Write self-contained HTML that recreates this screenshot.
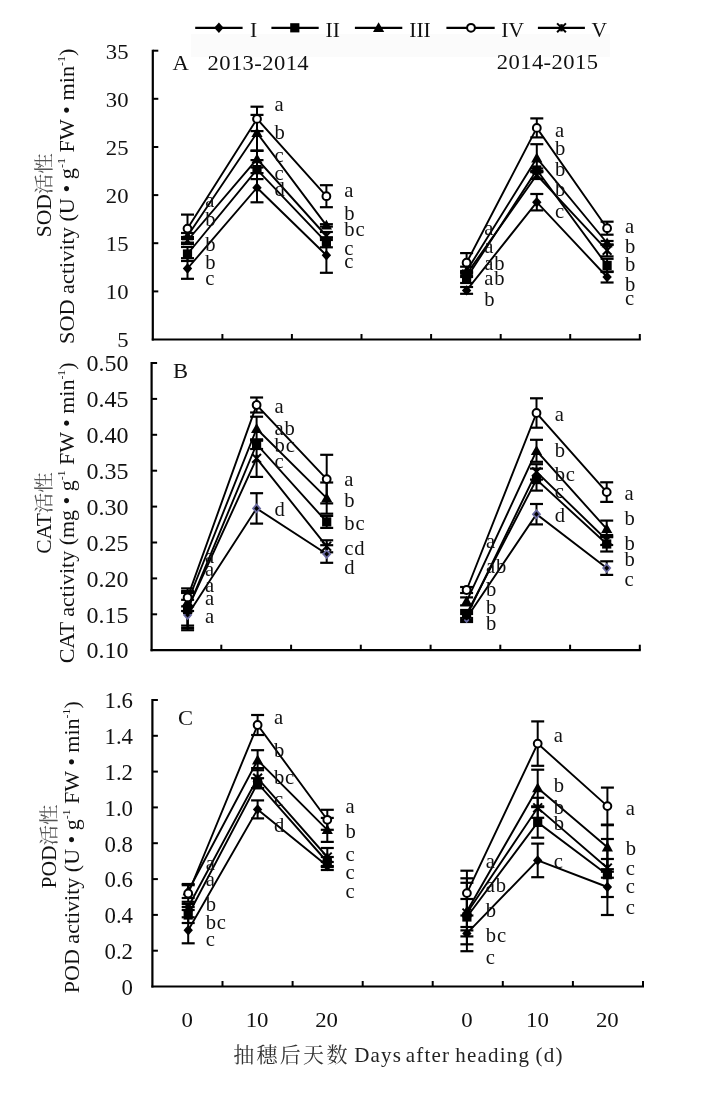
<!DOCTYPE html>
<html><head><meta charset="utf-8"><title>SOD CAT POD activity</title><style>html,body{margin:0;padding:0;background:#fff;}svg{display:block;will-change:transform;}</style></head><body>
<svg width="708" height="1094" viewBox="0 0 708 1094" font-family="'Liberation Serif', 'Noto Serif CJK SC', serif">
<rect width="708" height="1094" fill="#fff"/>
<rect x="191" y="34" width="419" height="23" fill="#fbfbfb"/>
<line x1="195.2" y1="27.8" x2="242.6" y2="27.8" stroke="#000" stroke-width="2.2"/>
<polygon points="218.9,22.6 223.6,27.8 218.9,33.0 214.2,27.8" fill="#000"/>
<text transform="translate(250.0,36.6) scale(1.0,1)" font-size="21.5" text-anchor="start" fill="#111" >I</text>
<line x1="271.4" y1="27.8" x2="318.7" y2="27.8" stroke="#000" stroke-width="2.2"/>
<rect x="290.2" y="23.2" width="9.2" height="9.2" fill="#000"/>
<text transform="translate(325.6,36.6) scale(1.0,1)" font-size="21.5" text-anchor="start" fill="#111" >II</text>
<line x1="354.9" y1="27.8" x2="402.3" y2="27.8" stroke="#000" stroke-width="2.2"/>
<polygon points="378.6,22.2 384.2,32.0 373.0,32.0" fill="#000"/>
<text transform="translate(409.3,36.6) scale(1.0,1)" font-size="21.5" text-anchor="start" fill="#111" >III</text>
<line x1="446.4" y1="27.8" x2="494.7" y2="27.8" stroke="#000" stroke-width="2.2"/>
<circle cx="471.0" cy="27.8" r="3.9" fill="#fff" stroke="#000" stroke-width="2"/>
<text transform="translate(501.3,36.6) scale(1.0,1)" font-size="21.5" text-anchor="start" fill="#111" >IV</text>
<line x1="537.9" y1="27.8" x2="584.9" y2="27.8" stroke="#000" stroke-width="2.2"/>
<g stroke="#000" stroke-width="2"><line x1="557.1" y1="23.4" x2="565.9" y2="32.2"/><line x1="557.1" y1="32.2" x2="565.9" y2="23.4"/><line x1="561.5" y1="24.2" x2="561.5" y2="31.4" stroke-width="2.6"/></g>
<text transform="translate(591.6,36.6) scale(1.0,1)" font-size="21.5" text-anchor="start" fill="#111" >V</text>
<line x1="152.8" y1="49.7" x2="152.8" y2="340.5" stroke="#000" stroke-width="2.2"/>
<line x1="152.8" y1="50.7" x2="158.3" y2="50.7" stroke="#000" stroke-width="2"/>
<text transform="translate(128.5,58.5) scale(1.03,1)" font-size="22" text-anchor="end" fill="#111" >35</text>
<line x1="152.8" y1="98.8" x2="158.3" y2="98.8" stroke="#000" stroke-width="2"/>
<text transform="translate(128.5,106.6) scale(1.03,1)" font-size="22" text-anchor="end" fill="#111" >30</text>
<line x1="152.8" y1="147.0" x2="158.3" y2="147.0" stroke="#000" stroke-width="2"/>
<text transform="translate(128.5,154.8) scale(1.03,1)" font-size="22" text-anchor="end" fill="#111" >25</text>
<line x1="152.8" y1="195.1" x2="158.3" y2="195.1" stroke="#000" stroke-width="2"/>
<text transform="translate(128.5,202.9) scale(1.03,1)" font-size="22" text-anchor="end" fill="#111" >20</text>
<line x1="152.8" y1="243.2" x2="158.3" y2="243.2" stroke="#000" stroke-width="2"/>
<text transform="translate(128.5,251.0) scale(1.03,1)" font-size="22" text-anchor="end" fill="#111" >15</text>
<line x1="152.8" y1="291.4" x2="158.3" y2="291.4" stroke="#000" stroke-width="2"/>
<text transform="translate(128.5,299.2) scale(1.03,1)" font-size="22" text-anchor="end" fill="#111" >10</text>
<text transform="translate(128.5,347.3) scale(1.03,1)" font-size="22" text-anchor="end" fill="#111" >5</text>
<line x1="151.8" y1="339.5" x2="640.8" y2="339.5" stroke="#000" stroke-width="2.2"/>
<line x1="222.4" y1="339.5" x2="222.4" y2="334.0" stroke="#000" stroke-width="2"/>
<line x1="291.9" y1="339.5" x2="291.9" y2="334.0" stroke="#000" stroke-width="2"/>
<line x1="361.5" y1="339.5" x2="361.5" y2="334.0" stroke="#000" stroke-width="2"/>
<line x1="431.1" y1="339.5" x2="431.1" y2="334.0" stroke="#000" stroke-width="2"/>
<line x1="500.7" y1="339.5" x2="500.7" y2="334.0" stroke="#000" stroke-width="2"/>
<line x1="570.2" y1="339.5" x2="570.2" y2="334.0" stroke="#000" stroke-width="2"/>
<line x1="639.8" y1="339.5" x2="639.8" y2="334.0" stroke="#000" stroke-width="2"/>
<text transform="translate(172.4,69.8) scale(1.05,1)" font-size="21.5" text-anchor="start" fill="#111" >A</text>
<text transform="translate(207.5,69.5) scale(1.05,1)" font-size="21.5" text-anchor="start" fill="#111" letter-spacing="0.4">2013-2014</text>
<text transform="translate(496.8,69.2) scale(1.05,1)" font-size="21.5" text-anchor="start" fill="#111" letter-spacing="0.4">2014-2015</text>
<polyline points="187.5,268.5 257.0,187.7 326.4,255.3" fill="none" stroke="#000" stroke-width="1.9" stroke-linejoin="miter"/>
<polyline points="187.5,254.0 257.0,169.6 326.4,242.3" fill="none" stroke="#000" stroke-width="1.9" stroke-linejoin="miter"/>
<polyline points="187.5,236.0 257.0,132.9 326.4,225.4" fill="none" stroke="#000" stroke-width="1.9" stroke-linejoin="miter"/>
<polyline points="187.5,240.5 257.0,159.0 326.4,236.0" fill="none" stroke="#000" stroke-width="1.9" stroke-linejoin="miter"/>
<polyline points="187.5,228.6 257.0,118.9 326.4,196.2" fill="none" stroke="#000" stroke-width="1.9" stroke-linejoin="miter"/>
<line x1="187.5" y1="258.2" x2="187.5" y2="278.8" stroke="#000" stroke-width="2"/>
<line x1="181.0" y1="258.2" x2="194.0" y2="258.2" stroke="#000" stroke-width="2.2"/>
<line x1="181.0" y1="278.8" x2="194.0" y2="278.8" stroke="#000" stroke-width="2.2"/>
<line x1="257.0" y1="173.1" x2="257.0" y2="202.3" stroke="#000" stroke-width="2"/>
<line x1="250.5" y1="173.1" x2="263.5" y2="173.1" stroke="#000" stroke-width="2.2"/>
<line x1="250.5" y1="202.3" x2="263.5" y2="202.3" stroke="#000" stroke-width="2.2"/>
<line x1="326.4" y1="237.8" x2="326.4" y2="272.8" stroke="#000" stroke-width="2"/>
<line x1="319.9" y1="237.8" x2="332.9" y2="237.8" stroke="#000" stroke-width="2.2"/>
<line x1="319.9" y1="272.8" x2="332.9" y2="272.8" stroke="#000" stroke-width="2.2"/>
<line x1="187.5" y1="247.0" x2="187.5" y2="261.0" stroke="#000" stroke-width="2"/>
<line x1="181.0" y1="247.0" x2="194.0" y2="247.0" stroke="#000" stroke-width="2.2"/>
<line x1="181.0" y1="261.0" x2="194.0" y2="261.0" stroke="#000" stroke-width="2.2"/>
<line x1="257.0" y1="160.1" x2="257.0" y2="179.1" stroke="#000" stroke-width="2"/>
<line x1="250.5" y1="160.1" x2="263.5" y2="160.1" stroke="#000" stroke-width="2.2"/>
<line x1="250.5" y1="179.1" x2="263.5" y2="179.1" stroke="#000" stroke-width="2.2"/>
<line x1="326.4" y1="237.3" x2="326.4" y2="247.3" stroke="#000" stroke-width="2"/>
<line x1="319.9" y1="237.3" x2="332.9" y2="237.3" stroke="#000" stroke-width="2.2"/>
<line x1="319.9" y1="247.3" x2="332.9" y2="247.3" stroke="#000" stroke-width="2.2"/>
<line x1="187.5" y1="233.0" x2="187.5" y2="239.0" stroke="#000" stroke-width="2"/>
<line x1="181.0" y1="233.0" x2="194.0" y2="233.0" stroke="#000" stroke-width="2.2"/>
<line x1="181.0" y1="239.0" x2="194.0" y2="239.0" stroke="#000" stroke-width="2.2"/>
<line x1="257.0" y1="114.9" x2="257.0" y2="150.9" stroke="#000" stroke-width="2"/>
<line x1="250.5" y1="114.9" x2="263.5" y2="114.9" stroke="#000" stroke-width="2.2"/>
<line x1="250.5" y1="150.9" x2="263.5" y2="150.9" stroke="#000" stroke-width="2.2"/>
<line x1="326.4" y1="224.2" x2="326.4" y2="226.6" stroke="#000" stroke-width="2"/>
<line x1="319.9" y1="224.2" x2="332.9" y2="224.2" stroke="#000" stroke-width="2.2"/>
<line x1="319.9" y1="226.6" x2="332.9" y2="226.6" stroke="#000" stroke-width="2.2"/>
<line x1="187.5" y1="237.0" x2="187.5" y2="244.0" stroke="#000" stroke-width="2"/>
<line x1="181.0" y1="237.0" x2="194.0" y2="237.0" stroke="#000" stroke-width="2.2"/>
<line x1="181.0" y1="244.0" x2="194.0" y2="244.0" stroke="#000" stroke-width="2.2"/>
<line x1="257.0" y1="150.5" x2="257.0" y2="167.5" stroke="#000" stroke-width="2"/>
<line x1="250.5" y1="150.5" x2="263.5" y2="150.5" stroke="#000" stroke-width="2.2"/>
<line x1="250.5" y1="167.5" x2="263.5" y2="167.5" stroke="#000" stroke-width="2.2"/>
<line x1="326.4" y1="232.0" x2="326.4" y2="240.0" stroke="#000" stroke-width="2"/>
<line x1="319.9" y1="232.0" x2="332.9" y2="232.0" stroke="#000" stroke-width="2.2"/>
<line x1="319.9" y1="240.0" x2="332.9" y2="240.0" stroke="#000" stroke-width="2.2"/>
<line x1="187.5" y1="214.6" x2="187.5" y2="242.6" stroke="#000" stroke-width="2"/>
<line x1="181.0" y1="214.6" x2="194.0" y2="214.6" stroke="#000" stroke-width="2.2"/>
<line x1="181.0" y1="242.6" x2="194.0" y2="242.6" stroke="#000" stroke-width="2.2"/>
<line x1="257.0" y1="106.7" x2="257.0" y2="131.1" stroke="#000" stroke-width="2"/>
<line x1="250.5" y1="106.7" x2="263.5" y2="106.7" stroke="#000" stroke-width="2.2"/>
<line x1="250.5" y1="131.1" x2="263.5" y2="131.1" stroke="#000" stroke-width="2.2"/>
<line x1="326.4" y1="185.2" x2="326.4" y2="207.2" stroke="#000" stroke-width="2"/>
<line x1="319.9" y1="185.2" x2="332.9" y2="185.2" stroke="#000" stroke-width="2.2"/>
<line x1="319.9" y1="207.2" x2="332.9" y2="207.2" stroke="#000" stroke-width="2.2"/>
<polygon points="187.5,263.3 192.2,268.5 187.5,273.7 182.8,268.5" fill="#000"/>
<polygon points="257.0,182.5 261.7,187.7 257.0,192.9 252.3,187.7" fill="#000"/>
<polygon points="326.4,250.1 331.1,255.3 326.4,260.5 321.7,255.3" fill="#000"/>
<rect x="182.9" y="249.4" width="9.2" height="9.2" fill="#000"/>
<rect x="252.4" y="165.0" width="9.2" height="9.2" fill="#000"/>
<rect x="321.8" y="237.7" width="9.2" height="9.2" fill="#000"/>
<polygon points="187.5,230.4 193.1,240.2 181.9,240.2" fill="#000"/>
<polygon points="257.0,127.3 262.6,137.1 251.4,137.1" fill="#000"/>
<polygon points="326.4,219.8 332.0,229.6 320.8,229.6" fill="#000"/>
<circle cx="187.5" cy="228.6" r="3.9" fill="#fff" stroke="#000" stroke-width="2"/>
<circle cx="257.0" cy="118.9" r="3.9" fill="#fff" stroke="#000" stroke-width="2"/>
<circle cx="326.4" cy="196.2" r="3.9" fill="#fff" stroke="#000" stroke-width="2"/>
<g stroke="#000" stroke-width="2"><line x1="183.1" y1="236.1" x2="191.9" y2="244.9"/><line x1="183.1" y1="244.9" x2="191.9" y2="236.1"/><line x1="187.5" y1="236.9" x2="187.5" y2="244.1" stroke-width="2.6"/></g>
<polygon points="257.0,153.4 262.6,163.2 251.4,163.2" fill="#000"/>
<g stroke="#000" stroke-width="2"><line x1="322.0" y1="231.6" x2="330.8" y2="240.4"/><line x1="322.0" y1="240.4" x2="330.8" y2="231.6"/><line x1="326.4" y1="232.4" x2="326.4" y2="239.6" stroke-width="2.6"/></g>
<text transform="translate(205.3,207.1) scale(0.97,1)" font-size="21.3" text-anchor="start" fill="#111" >a</text>
<text transform="translate(205.3,225.6) scale(0.97,1)" font-size="21.3" text-anchor="start" fill="#111" >b</text>
<text transform="translate(205.3,251.1) scale(0.97,1)" font-size="21.3" text-anchor="start" fill="#111" >b</text>
<text transform="translate(205.3,268.6) scale(0.97,1)" font-size="21.3" text-anchor="start" fill="#111" >b</text>
<text transform="translate(205.3,284.6) scale(0.97,1)" font-size="21.3" text-anchor="start" fill="#111" >c</text>
<text transform="translate(274.4,110.9) scale(0.97,1)" font-size="21.3" text-anchor="start" fill="#111" >a</text>
<text transform="translate(274.4,138.6) scale(0.97,1)" font-size="21.3" text-anchor="start" fill="#111" >b</text>
<text transform="translate(274.4,162.3) scale(0.97,1)" font-size="21.3" text-anchor="start" fill="#111" >c</text>
<text transform="translate(274.4,180.3) scale(0.97,1)" font-size="21.3" text-anchor="start" fill="#111" >c</text>
<text transform="translate(274.4,196.2) scale(0.97,1)" font-size="21.3" text-anchor="start" fill="#111" >d</text>
<text transform="translate(344.3,197.1) scale(0.97,1)" font-size="21.3" text-anchor="start" fill="#111" >a</text>
<text transform="translate(344.3,220.3) scale(0.97,1)" font-size="21.3" text-anchor="start" fill="#111" >b</text>
<text transform="translate(344.3,236.1) scale(0.97,1)" font-size="21.3" text-anchor="start" fill="#111" letter-spacing="0.8">bc</text>
<text transform="translate(344.3,255.3) scale(0.97,1)" font-size="21.3" text-anchor="start" fill="#111" >c</text>
<text transform="translate(344.3,268.3) scale(0.97,1)" font-size="21.3" text-anchor="start" fill="#111" >c</text>
<polyline points="466.6,290.4 536.8,202.2 607.1,277.0" fill="none" stroke="#000" stroke-width="1.9" stroke-linejoin="miter"/>
<polyline points="466.6,278.0 536.8,170.0 607.1,265.4" fill="none" stroke="#000" stroke-width="1.9" stroke-linejoin="miter"/>
<polyline points="466.6,271.0 536.8,158.2 607.1,243.0" fill="none" stroke="#000" stroke-width="1.9" stroke-linejoin="miter"/>
<polyline points="466.6,274.0 536.8,175.0 607.1,250.4" fill="none" stroke="#000" stroke-width="1.9" stroke-linejoin="miter"/>
<polyline points="466.6,262.7 536.8,127.9 607.1,228.2" fill="none" stroke="#000" stroke-width="1.9" stroke-linejoin="miter"/>
<line x1="466.6" y1="287.0" x2="466.6" y2="293.8" stroke="#000" stroke-width="2"/>
<line x1="460.1" y1="287.0" x2="473.1" y2="287.0" stroke="#000" stroke-width="2.2"/>
<line x1="460.1" y1="293.8" x2="473.1" y2="293.8" stroke="#000" stroke-width="2.2"/>
<line x1="536.8" y1="194.0" x2="536.8" y2="210.4" stroke="#000" stroke-width="2"/>
<line x1="530.3" y1="194.0" x2="543.3" y2="194.0" stroke="#000" stroke-width="2.2"/>
<line x1="530.3" y1="210.4" x2="543.3" y2="210.4" stroke="#000" stroke-width="2.2"/>
<line x1="607.1" y1="271.5" x2="607.1" y2="282.5" stroke="#000" stroke-width="2"/>
<line x1="600.6" y1="271.5" x2="613.6" y2="271.5" stroke="#000" stroke-width="2.2"/>
<line x1="600.6" y1="282.5" x2="613.6" y2="282.5" stroke="#000" stroke-width="2.2"/>
<line x1="466.6" y1="273.0" x2="466.6" y2="283.0" stroke="#000" stroke-width="2"/>
<line x1="460.1" y1="273.0" x2="473.1" y2="273.0" stroke="#000" stroke-width="2.2"/>
<line x1="460.1" y1="283.0" x2="473.1" y2="283.0" stroke="#000" stroke-width="2.2"/>
<line x1="536.8" y1="168.5" x2="536.8" y2="171.5" stroke="#000" stroke-width="2"/>
<line x1="530.3" y1="168.5" x2="543.3" y2="168.5" stroke="#000" stroke-width="2.2"/>
<line x1="530.3" y1="171.5" x2="543.3" y2="171.5" stroke="#000" stroke-width="2.2"/>
<line x1="607.1" y1="258.8" x2="607.1" y2="272.0" stroke="#000" stroke-width="2"/>
<line x1="600.6" y1="258.8" x2="613.6" y2="258.8" stroke="#000" stroke-width="2.2"/>
<line x1="600.6" y1="272.0" x2="613.6" y2="272.0" stroke="#000" stroke-width="2.2"/>
<line x1="466.6" y1="266.7" x2="466.6" y2="275.3" stroke="#000" stroke-width="2"/>
<line x1="460.1" y1="266.7" x2="473.1" y2="266.7" stroke="#000" stroke-width="2.2"/>
<line x1="460.1" y1="275.3" x2="473.1" y2="275.3" stroke="#000" stroke-width="2.2"/>
<line x1="536.8" y1="144.2" x2="536.8" y2="172.2" stroke="#000" stroke-width="2"/>
<line x1="530.3" y1="144.2" x2="543.3" y2="144.2" stroke="#000" stroke-width="2.2"/>
<line x1="530.3" y1="172.2" x2="543.3" y2="172.2" stroke="#000" stroke-width="2.2"/>
<line x1="607.1" y1="241.0" x2="607.1" y2="245.0" stroke="#000" stroke-width="2"/>
<line x1="600.6" y1="241.0" x2="613.6" y2="241.0" stroke="#000" stroke-width="2.2"/>
<line x1="600.6" y1="245.0" x2="613.6" y2="245.0" stroke="#000" stroke-width="2.2"/>
<line x1="466.6" y1="271.0" x2="466.6" y2="277.0" stroke="#000" stroke-width="2"/>
<line x1="460.1" y1="271.0" x2="473.1" y2="271.0" stroke="#000" stroke-width="2.2"/>
<line x1="460.1" y1="277.0" x2="473.1" y2="277.0" stroke="#000" stroke-width="2.2"/>
<line x1="536.8" y1="171.0" x2="536.8" y2="179.0" stroke="#000" stroke-width="2"/>
<line x1="530.3" y1="171.0" x2="543.3" y2="171.0" stroke="#000" stroke-width="2.2"/>
<line x1="530.3" y1="179.0" x2="543.3" y2="179.0" stroke="#000" stroke-width="2.2"/>
<line x1="607.1" y1="244.4" x2="607.1" y2="256.4" stroke="#000" stroke-width="2"/>
<line x1="600.6" y1="244.4" x2="613.6" y2="244.4" stroke="#000" stroke-width="2.2"/>
<line x1="600.6" y1="256.4" x2="613.6" y2="256.4" stroke="#000" stroke-width="2.2"/>
<line x1="466.6" y1="253.1" x2="466.6" y2="272.3" stroke="#000" stroke-width="2"/>
<line x1="460.1" y1="253.1" x2="473.1" y2="253.1" stroke="#000" stroke-width="2.2"/>
<line x1="460.1" y1="272.3" x2="473.1" y2="272.3" stroke="#000" stroke-width="2.2"/>
<line x1="536.8" y1="118.4" x2="536.8" y2="137.4" stroke="#000" stroke-width="2"/>
<line x1="530.3" y1="118.4" x2="543.3" y2="118.4" stroke="#000" stroke-width="2.2"/>
<line x1="530.3" y1="137.4" x2="543.3" y2="137.4" stroke="#000" stroke-width="2.2"/>
<line x1="607.1" y1="221.7" x2="607.1" y2="234.7" stroke="#000" stroke-width="2"/>
<line x1="600.6" y1="221.7" x2="613.6" y2="221.7" stroke="#000" stroke-width="2.2"/>
<line x1="600.6" y1="234.7" x2="613.6" y2="234.7" stroke="#000" stroke-width="2.2"/>
<polygon points="466.6,285.2 471.3,290.4 466.6,295.6 461.9,290.4" fill="#000"/>
<polygon points="536.8,197.0 541.5,202.2 536.8,207.4 532.1,202.2" fill="#000"/>
<polygon points="607.1,271.8 611.8,277.0 607.1,282.2 602.4,277.0" fill="#000"/>
<rect x="462.0" y="273.4" width="9.2" height="9.2" fill="#000"/>
<rect x="532.2" y="165.4" width="9.2" height="9.2" fill="#000"/>
<rect x="602.5" y="260.8" width="9.2" height="9.2" fill="#000"/>
<polygon points="466.6,265.4 472.2,275.2 461.0,275.2" fill="#000"/>
<polygon points="536.8,152.6 542.4,162.4 531.2,162.4" fill="#000"/>
<polygon points="607.1,237.4 612.7,247.2 601.5,247.2" fill="#000"/>
<circle cx="466.6" cy="262.7" r="3.9" fill="#fff" stroke="#000" stroke-width="2"/>
<circle cx="536.8" cy="127.9" r="3.9" fill="#fff" stroke="#000" stroke-width="2"/>
<circle cx="607.1" cy="228.2" r="3.9" fill="#fff" stroke="#000" stroke-width="2"/>
<g stroke="#000" stroke-width="2"><line x1="462.2" y1="269.6" x2="471.0" y2="278.4"/><line x1="462.2" y1="278.4" x2="471.0" y2="269.6"/><line x1="466.6" y1="270.4" x2="466.6" y2="277.6" stroke-width="2.6"/></g>
<g stroke="#000" stroke-width="2"><line x1="532.4" y1="170.6" x2="541.2" y2="179.4"/><line x1="532.4" y1="179.4" x2="541.2" y2="170.6"/><line x1="536.8" y1="171.4" x2="536.8" y2="178.6" stroke-width="2.6"/></g>
<g stroke="#000" stroke-width="2"><line x1="602.7" y1="246.0" x2="611.5" y2="254.8"/><line x1="602.7" y1="254.8" x2="611.5" y2="246.0"/><line x1="607.1" y1="246.8" x2="607.1" y2="254.0" stroke-width="2.6"/></g>
<text transform="translate(484.3,234.5) scale(0.97,1)" font-size="21.3" text-anchor="start" fill="#111" >a</text>
<text transform="translate(484.3,253.1) scale(0.97,1)" font-size="21.3" text-anchor="start" fill="#111" >a</text>
<text transform="translate(484.3,269.5) scale(0.97,1)" font-size="21.3" text-anchor="start" fill="#111" letter-spacing="0.8">ab</text>
<text transform="translate(484.3,284.8) scale(0.97,1)" font-size="21.3" text-anchor="start" fill="#111" letter-spacing="0.8">ab</text>
<text transform="translate(484.3,306.2) scale(0.97,1)" font-size="21.3" text-anchor="start" fill="#111" >b</text>
<text transform="translate(555.0,136.8) scale(0.97,1)" font-size="21.3" text-anchor="start" fill="#111" >a</text>
<text transform="translate(555.0,154.6) scale(0.97,1)" font-size="21.3" text-anchor="start" fill="#111" >b</text>
<text transform="translate(555.0,176.1) scale(0.97,1)" font-size="21.3" text-anchor="start" fill="#111" >b</text>
<text transform="translate(555.0,196.3) scale(0.97,1)" font-size="21.3" text-anchor="start" fill="#111" >b</text>
<text transform="translate(555.0,218.2) scale(0.97,1)" font-size="21.3" text-anchor="start" fill="#111" >c</text>
<text transform="translate(624.9,232.8) scale(0.97,1)" font-size="21.3" text-anchor="start" fill="#111" >a</text>
<text transform="translate(624.9,252.6) scale(0.97,1)" font-size="21.3" text-anchor="start" fill="#111" >b</text>
<text transform="translate(624.9,270.6) scale(0.97,1)" font-size="21.3" text-anchor="start" fill="#111" >b</text>
<text transform="translate(624.9,291.0) scale(0.97,1)" font-size="21.3" text-anchor="start" fill="#111" >b</text>
<text transform="translate(624.9,304.6) scale(0.97,1)" font-size="21.3" text-anchor="start" fill="#111" >c</text>
<line x1="151.6" y1="362.0" x2="151.6" y2="651.2" stroke="#000" stroke-width="2.2"/>
<line x1="151.6" y1="363.0" x2="157.1" y2="363.0" stroke="#000" stroke-width="2"/>
<text transform="translate(128.5,371.2) scale(1.045,1)" font-size="23" text-anchor="end" fill="#111" >0.50</text>
<line x1="151.6" y1="398.9" x2="157.1" y2="398.9" stroke="#000" stroke-width="2"/>
<text transform="translate(128.5,407.1) scale(1.045,1)" font-size="23" text-anchor="end" fill="#111" >0.45</text>
<line x1="151.6" y1="434.8" x2="157.1" y2="434.8" stroke="#000" stroke-width="2"/>
<text transform="translate(128.5,443.0) scale(1.045,1)" font-size="23" text-anchor="end" fill="#111" >0.40</text>
<line x1="151.6" y1="470.7" x2="157.1" y2="470.7" stroke="#000" stroke-width="2"/>
<text transform="translate(128.5,478.9) scale(1.045,1)" font-size="23" text-anchor="end" fill="#111" >0.35</text>
<line x1="151.6" y1="506.6" x2="157.1" y2="506.6" stroke="#000" stroke-width="2"/>
<text transform="translate(128.5,514.8) scale(1.045,1)" font-size="23" text-anchor="end" fill="#111" >0.30</text>
<line x1="151.6" y1="542.5" x2="157.1" y2="542.5" stroke="#000" stroke-width="2"/>
<text transform="translate(128.5,550.7) scale(1.045,1)" font-size="23" text-anchor="end" fill="#111" >0.25</text>
<line x1="151.6" y1="578.4" x2="157.1" y2="578.4" stroke="#000" stroke-width="2"/>
<text transform="translate(128.5,586.6) scale(1.045,1)" font-size="23" text-anchor="end" fill="#111" >0.20</text>
<line x1="151.6" y1="614.3" x2="157.1" y2="614.3" stroke="#000" stroke-width="2"/>
<text transform="translate(128.5,622.5) scale(1.045,1)" font-size="23" text-anchor="end" fill="#111" >0.15</text>
<text transform="translate(128.5,658.4) scale(1.045,1)" font-size="23" text-anchor="end" fill="#111" >0.10</text>
<line x1="150.6" y1="650.2" x2="640.8" y2="650.2" stroke="#000" stroke-width="2.2"/>
<line x1="221.3" y1="650.2" x2="221.3" y2="644.7" stroke="#000" stroke-width="2"/>
<line x1="291.1" y1="650.2" x2="291.1" y2="644.7" stroke="#000" stroke-width="2"/>
<line x1="360.8" y1="650.2" x2="360.8" y2="644.7" stroke="#000" stroke-width="2"/>
<line x1="430.6" y1="650.2" x2="430.6" y2="644.7" stroke="#000" stroke-width="2"/>
<line x1="500.3" y1="650.2" x2="500.3" y2="644.7" stroke="#000" stroke-width="2"/>
<line x1="570.1" y1="650.2" x2="570.1" y2="644.7" stroke="#000" stroke-width="2"/>
<line x1="639.8" y1="650.2" x2="639.8" y2="644.7" stroke="#000" stroke-width="2"/>
<text transform="translate(172.9,377.9) scale(1.05,1)" font-size="21.5" text-anchor="start" fill="#111" >B</text>
<polyline points="187.6,615.0 256.6,508.4 326.7,554.0" fill="none" stroke="#000" stroke-width="1.9" stroke-linejoin="miter"/>
<polyline points="187.6,609.5 256.6,444.2 326.7,521.9" fill="none" stroke="#000" stroke-width="1.9" stroke-linejoin="miter"/>
<polyline points="187.6,602.0 256.6,428.7 326.7,498.1" fill="none" stroke="#000" stroke-width="1.9" stroke-linejoin="miter"/>
<polyline points="187.6,609.0 256.6,458.4 326.7,546.3" fill="none" stroke="#000" stroke-width="1.9" stroke-linejoin="miter"/>
<polyline points="187.6,597.4 256.6,405.0 326.7,479.1" fill="none" stroke="#000" stroke-width="1.9" stroke-linejoin="miter"/>
<line x1="187.6" y1="599.8" x2="187.6" y2="630.2" stroke="#000" stroke-width="2"/>
<line x1="181.1" y1="599.8" x2="194.1" y2="599.8" stroke="#000" stroke-width="2.2"/>
<line x1="181.1" y1="630.2" x2="194.1" y2="630.2" stroke="#000" stroke-width="2.2"/>
<line x1="256.6" y1="493.2" x2="256.6" y2="523.6" stroke="#000" stroke-width="2"/>
<line x1="250.1" y1="493.2" x2="263.1" y2="493.2" stroke="#000" stroke-width="2.2"/>
<line x1="250.1" y1="523.6" x2="263.1" y2="523.6" stroke="#000" stroke-width="2.2"/>
<line x1="326.7" y1="545.2" x2="326.7" y2="562.8" stroke="#000" stroke-width="2"/>
<line x1="320.2" y1="545.2" x2="333.2" y2="545.2" stroke="#000" stroke-width="2.2"/>
<line x1="320.2" y1="562.8" x2="333.2" y2="562.8" stroke="#000" stroke-width="2.2"/>
<line x1="187.6" y1="591.1" x2="187.6" y2="627.9" stroke="#000" stroke-width="2"/>
<line x1="181.1" y1="591.1" x2="194.1" y2="591.1" stroke="#000" stroke-width="2.2"/>
<line x1="181.1" y1="627.9" x2="194.1" y2="627.9" stroke="#000" stroke-width="2.2"/>
<line x1="256.6" y1="439.4" x2="256.6" y2="449.0" stroke="#000" stroke-width="2"/>
<line x1="250.1" y1="439.4" x2="263.1" y2="439.4" stroke="#000" stroke-width="2.2"/>
<line x1="250.1" y1="449.0" x2="263.1" y2="449.0" stroke="#000" stroke-width="2.2"/>
<line x1="326.7" y1="515.9" x2="326.7" y2="527.9" stroke="#000" stroke-width="2"/>
<line x1="320.2" y1="515.9" x2="333.2" y2="515.9" stroke="#000" stroke-width="2.2"/>
<line x1="320.2" y1="527.9" x2="333.2" y2="527.9" stroke="#000" stroke-width="2.2"/>
<line x1="187.6" y1="593.0" x2="187.6" y2="611.0" stroke="#000" stroke-width="2"/>
<line x1="181.1" y1="593.0" x2="194.1" y2="593.0" stroke="#000" stroke-width="2.2"/>
<line x1="181.1" y1="611.0" x2="194.1" y2="611.0" stroke="#000" stroke-width="2.2"/>
<line x1="256.6" y1="416.7" x2="256.6" y2="440.7" stroke="#000" stroke-width="2"/>
<line x1="250.1" y1="416.7" x2="263.1" y2="416.7" stroke="#000" stroke-width="2.2"/>
<line x1="250.1" y1="440.7" x2="263.1" y2="440.7" stroke="#000" stroke-width="2.2"/>
<line x1="326.7" y1="482.5" x2="326.7" y2="513.7" stroke="#000" stroke-width="2"/>
<line x1="320.2" y1="482.5" x2="333.2" y2="482.5" stroke="#000" stroke-width="2.2"/>
<line x1="320.2" y1="513.7" x2="333.2" y2="513.7" stroke="#000" stroke-width="2.2"/>
<line x1="187.6" y1="592.4" x2="187.6" y2="625.6" stroke="#000" stroke-width="2"/>
<line x1="181.1" y1="592.4" x2="194.1" y2="592.4" stroke="#000" stroke-width="2.2"/>
<line x1="181.1" y1="625.6" x2="194.1" y2="625.6" stroke="#000" stroke-width="2.2"/>
<line x1="256.6" y1="439.9" x2="256.6" y2="476.9" stroke="#000" stroke-width="2"/>
<line x1="250.1" y1="439.9" x2="263.1" y2="439.9" stroke="#000" stroke-width="2.2"/>
<line x1="250.1" y1="476.9" x2="263.1" y2="476.9" stroke="#000" stroke-width="2.2"/>
<line x1="326.7" y1="540.3" x2="326.7" y2="552.3" stroke="#000" stroke-width="2"/>
<line x1="320.2" y1="540.3" x2="333.2" y2="540.3" stroke="#000" stroke-width="2.2"/>
<line x1="320.2" y1="552.3" x2="333.2" y2="552.3" stroke="#000" stroke-width="2.2"/>
<line x1="187.6" y1="588.4" x2="187.6" y2="606.4" stroke="#000" stroke-width="2"/>
<line x1="181.1" y1="588.4" x2="194.1" y2="588.4" stroke="#000" stroke-width="2.2"/>
<line x1="181.1" y1="606.4" x2="194.1" y2="606.4" stroke="#000" stroke-width="2.2"/>
<line x1="256.6" y1="397.5" x2="256.6" y2="412.5" stroke="#000" stroke-width="2"/>
<line x1="250.1" y1="397.5" x2="263.1" y2="397.5" stroke="#000" stroke-width="2.2"/>
<line x1="250.1" y1="412.5" x2="263.1" y2="412.5" stroke="#000" stroke-width="2.2"/>
<line x1="326.7" y1="454.8" x2="326.7" y2="503.4" stroke="#000" stroke-width="2"/>
<line x1="320.2" y1="454.8" x2="333.2" y2="454.8" stroke="#000" stroke-width="2.2"/>
<line x1="320.2" y1="503.4" x2="333.2" y2="503.4" stroke="#000" stroke-width="2.2"/>
<polygon points="187.6,609.8 192.3,615.0 187.6,620.2 182.9,615.0" fill="#6a6aa0"/>
<polygon points="187.6,612.4 190.0,615.0 187.6,617.6 185.2,615.0" fill="#000"/>
<polygon points="256.6,503.2 261.3,508.4 256.6,513.6 251.9,508.4" fill="#6a6aa0"/>
<polygon points="256.6,505.8 259.0,508.4 256.6,511.0 254.2,508.4" fill="#000"/>
<polygon points="326.7,548.8 331.4,554.0 326.7,559.2 322.0,554.0" fill="#6a6aa0"/>
<polygon points="326.7,551.4 329.1,554.0 326.7,556.6 324.3,554.0" fill="#000"/>
<rect x="183.0" y="604.9" width="9.2" height="9.2" fill="#000"/>
<rect x="252.0" y="439.6" width="9.2" height="9.2" fill="#000"/>
<rect x="322.1" y="517.3" width="9.2" height="9.2" fill="#000"/>
<polygon points="187.6,596.4 193.2,606.2 182.0,606.2" fill="#000"/>
<polygon points="256.6,423.1 262.2,432.9 251.0,432.9" fill="#000"/>
<polygon points="326.7,492.5 332.3,502.3 321.1,502.3" fill="#000"/>
<circle cx="187.6" cy="597.4" r="3.9" fill="#fff" stroke="#000" stroke-width="2"/>
<circle cx="256.6" cy="405.0" r="3.9" fill="#fff" stroke="#000" stroke-width="2"/>
<circle cx="326.7" cy="479.1" r="3.9" fill="#fff" stroke="#000" stroke-width="2"/>
<g stroke="#000" stroke-width="2"><line x1="183.2" y1="604.6" x2="192.0" y2="613.4"/><line x1="183.2" y1="613.4" x2="192.0" y2="604.6"/><line x1="187.6" y1="605.4" x2="187.6" y2="612.6" stroke-width="2.6"/></g>
<g stroke="#000" stroke-width="2"><line x1="252.2" y1="454.0" x2="261.0" y2="462.8"/><line x1="252.2" y1="462.8" x2="261.0" y2="454.0"/><line x1="256.6" y1="454.8" x2="256.6" y2="462.0" stroke-width="2.6"/></g>
<g stroke="#000" stroke-width="2"><line x1="322.3" y1="541.9" x2="331.1" y2="550.7"/><line x1="322.3" y1="550.7" x2="331.1" y2="541.9"/><line x1="326.7" y1="542.7" x2="326.7" y2="549.9" stroke-width="2.6"/></g>
<text transform="translate(204.9,562.6) scale(0.97,1)" font-size="21.3" text-anchor="start" fill="#111" >a</text>
<text transform="translate(204.9,576.0) scale(0.97,1)" font-size="21.3" text-anchor="start" fill="#111" >a</text>
<text transform="translate(204.9,592.2) scale(0.97,1)" font-size="21.3" text-anchor="start" fill="#111" >a</text>
<text transform="translate(204.9,604.8) scale(0.97,1)" font-size="21.3" text-anchor="start" fill="#111" >a</text>
<text transform="translate(204.9,623.4) scale(0.97,1)" font-size="21.3" text-anchor="start" fill="#111" >a</text>
<text transform="translate(274.6,412.7) scale(0.97,1)" font-size="21.3" text-anchor="start" fill="#111" >a</text>
<text transform="translate(274.6,435.3) scale(0.97,1)" font-size="21.3" text-anchor="start" fill="#111" letter-spacing="0.8">ab</text>
<text transform="translate(274.6,451.9) scale(0.97,1)" font-size="21.3" text-anchor="start" fill="#111" letter-spacing="0.8">bc</text>
<text transform="translate(274.6,467.9) scale(0.97,1)" font-size="21.3" text-anchor="start" fill="#111" >c</text>
<text transform="translate(274.6,516.4) scale(0.97,1)" font-size="21.3" text-anchor="start" fill="#111" >d</text>
<text transform="translate(344.3,486.3) scale(0.97,1)" font-size="21.3" text-anchor="start" fill="#111" >a</text>
<text transform="translate(344.3,506.5) scale(0.97,1)" font-size="21.3" text-anchor="start" fill="#111" >b</text>
<text transform="translate(344.3,529.6) scale(0.97,1)" font-size="21.3" text-anchor="start" fill="#111" letter-spacing="0.8">bc</text>
<text transform="translate(344.3,554.6) scale(0.97,1)" font-size="21.3" text-anchor="start" fill="#111" letter-spacing="0.8">cd</text>
<text transform="translate(344.3,574.2) scale(0.97,1)" font-size="21.3" text-anchor="start" fill="#111" >d</text>
<polyline points="466.6,618.0 536.5,514.2 606.7,568.1" fill="none" stroke="#000" stroke-width="1.9" stroke-linejoin="miter"/>
<polyline points="466.6,614.0 536.5,479.6 606.7,544.0" fill="none" stroke="#000" stroke-width="1.9" stroke-linejoin="miter"/>
<polyline points="466.6,601.4 536.5,450.8 606.7,528.9" fill="none" stroke="#000" stroke-width="1.9" stroke-linejoin="miter"/>
<polyline points="466.6,616.0 536.5,471.9 606.7,540.0" fill="none" stroke="#000" stroke-width="1.9" stroke-linejoin="miter"/>
<polyline points="466.6,590.0 536.5,413.0 606.7,492.1" fill="none" stroke="#000" stroke-width="1.9" stroke-linejoin="miter"/>
<line x1="466.6" y1="614.0" x2="466.6" y2="622.0" stroke="#000" stroke-width="2"/>
<line x1="460.1" y1="614.0" x2="473.1" y2="614.0" stroke="#000" stroke-width="2.2"/>
<line x1="460.1" y1="622.0" x2="473.1" y2="622.0" stroke="#000" stroke-width="2.2"/>
<line x1="536.5" y1="504.0" x2="536.5" y2="524.4" stroke="#000" stroke-width="2"/>
<line x1="530.0" y1="504.0" x2="543.0" y2="504.0" stroke="#000" stroke-width="2.2"/>
<line x1="530.0" y1="524.4" x2="543.0" y2="524.4" stroke="#000" stroke-width="2.2"/>
<line x1="606.7" y1="561.3" x2="606.7" y2="574.9" stroke="#000" stroke-width="2"/>
<line x1="600.2" y1="561.3" x2="613.2" y2="561.3" stroke="#000" stroke-width="2.2"/>
<line x1="600.2" y1="574.9" x2="613.2" y2="574.9" stroke="#000" stroke-width="2.2"/>
<line x1="466.6" y1="610.0" x2="466.6" y2="618.0" stroke="#000" stroke-width="2"/>
<line x1="460.1" y1="610.0" x2="473.1" y2="610.0" stroke="#000" stroke-width="2.2"/>
<line x1="460.1" y1="618.0" x2="473.1" y2="618.0" stroke="#000" stroke-width="2.2"/>
<line x1="536.5" y1="468.6" x2="536.5" y2="490.6" stroke="#000" stroke-width="2"/>
<line x1="530.0" y1="468.6" x2="543.0" y2="468.6" stroke="#000" stroke-width="2.2"/>
<line x1="530.0" y1="490.6" x2="543.0" y2="490.6" stroke="#000" stroke-width="2.2"/>
<line x1="606.7" y1="536.5" x2="606.7" y2="551.5" stroke="#000" stroke-width="2"/>
<line x1="600.2" y1="536.5" x2="613.2" y2="536.5" stroke="#000" stroke-width="2.2"/>
<line x1="600.2" y1="551.5" x2="613.2" y2="551.5" stroke="#000" stroke-width="2.2"/>
<line x1="466.6" y1="597.4" x2="466.6" y2="605.4" stroke="#000" stroke-width="2"/>
<line x1="460.1" y1="597.4" x2="473.1" y2="597.4" stroke="#000" stroke-width="2.2"/>
<line x1="460.1" y1="605.4" x2="473.1" y2="605.4" stroke="#000" stroke-width="2.2"/>
<line x1="536.5" y1="439.8" x2="536.5" y2="461.8" stroke="#000" stroke-width="2"/>
<line x1="530.0" y1="439.8" x2="543.0" y2="439.8" stroke="#000" stroke-width="2.2"/>
<line x1="530.0" y1="461.8" x2="543.0" y2="461.8" stroke="#000" stroke-width="2.2"/>
<line x1="606.7" y1="520.6" x2="606.7" y2="537.2" stroke="#000" stroke-width="2"/>
<line x1="600.2" y1="520.6" x2="613.2" y2="520.6" stroke="#000" stroke-width="2.2"/>
<line x1="600.2" y1="537.2" x2="613.2" y2="537.2" stroke="#000" stroke-width="2.2"/>
<line x1="466.6" y1="612.0" x2="466.6" y2="620.0" stroke="#000" stroke-width="2"/>
<line x1="460.1" y1="612.0" x2="473.1" y2="612.0" stroke="#000" stroke-width="2.2"/>
<line x1="460.1" y1="620.0" x2="473.1" y2="620.0" stroke="#000" stroke-width="2.2"/>
<line x1="536.5" y1="464.2" x2="536.5" y2="479.6" stroke="#000" stroke-width="2"/>
<line x1="530.0" y1="464.2" x2="543.0" y2="464.2" stroke="#000" stroke-width="2.2"/>
<line x1="530.0" y1="479.6" x2="543.0" y2="479.6" stroke="#000" stroke-width="2.2"/>
<line x1="606.7" y1="535.0" x2="606.7" y2="545.0" stroke="#000" stroke-width="2"/>
<line x1="600.2" y1="535.0" x2="613.2" y2="535.0" stroke="#000" stroke-width="2.2"/>
<line x1="600.2" y1="545.0" x2="613.2" y2="545.0" stroke="#000" stroke-width="2.2"/>
<line x1="466.6" y1="587.0" x2="466.6" y2="593.0" stroke="#000" stroke-width="2"/>
<line x1="460.1" y1="587.0" x2="473.1" y2="587.0" stroke="#000" stroke-width="2.2"/>
<line x1="460.1" y1="593.0" x2="473.1" y2="593.0" stroke="#000" stroke-width="2.2"/>
<line x1="536.5" y1="398.3" x2="536.5" y2="427.7" stroke="#000" stroke-width="2"/>
<line x1="530.0" y1="398.3" x2="543.0" y2="398.3" stroke="#000" stroke-width="2.2"/>
<line x1="530.0" y1="427.7" x2="543.0" y2="427.7" stroke="#000" stroke-width="2.2"/>
<line x1="606.7" y1="482.3" x2="606.7" y2="501.9" stroke="#000" stroke-width="2"/>
<line x1="600.2" y1="482.3" x2="613.2" y2="482.3" stroke="#000" stroke-width="2.2"/>
<line x1="600.2" y1="501.9" x2="613.2" y2="501.9" stroke="#000" stroke-width="2.2"/>
<polygon points="466.6,612.8 471.3,618.0 466.6,623.2 461.9,618.0" fill="#6a6aa0"/>
<polygon points="466.6,615.4 469.0,618.0 466.6,620.6 464.2,618.0" fill="#000"/>
<polygon points="536.5,509.0 541.2,514.2 536.5,519.4 531.8,514.2" fill="#6a6aa0"/>
<polygon points="536.5,511.6 538.9,514.2 536.5,516.8 534.1,514.2" fill="#000"/>
<polygon points="606.7,562.9 611.4,568.1 606.7,573.3 602.0,568.1" fill="#6a6aa0"/>
<polygon points="606.7,565.5 609.1,568.1 606.7,570.7 604.3,568.1" fill="#000"/>
<rect x="462.0" y="609.4" width="9.2" height="9.2" fill="#000"/>
<rect x="531.9" y="475.0" width="9.2" height="9.2" fill="#000"/>
<rect x="602.1" y="539.4" width="9.2" height="9.2" fill="#000"/>
<polygon points="466.6,595.8 472.2,605.6 461.0,605.6" fill="#000"/>
<polygon points="536.5,445.2 542.1,455.0 530.9,455.0" fill="#000"/>
<polygon points="606.7,523.3 612.3,533.1 601.1,533.1" fill="#000"/>
<circle cx="466.6" cy="590.0" r="3.9" fill="#fff" stroke="#000" stroke-width="2"/>
<circle cx="536.5" cy="413.0" r="3.9" fill="#fff" stroke="#000" stroke-width="2"/>
<circle cx="606.7" cy="492.1" r="3.9" fill="#fff" stroke="#000" stroke-width="2"/>
<g stroke="#000" stroke-width="2"><line x1="462.2" y1="611.6" x2="471.0" y2="620.4"/><line x1="462.2" y1="620.4" x2="471.0" y2="611.6"/><line x1="466.6" y1="612.4" x2="466.6" y2="619.6" stroke-width="2.6"/></g>
<g stroke="#000" stroke-width="2"><line x1="532.1" y1="467.5" x2="540.9" y2="476.3"/><line x1="532.1" y1="476.3" x2="540.9" y2="467.5"/><line x1="536.5" y1="468.3" x2="536.5" y2="475.5" stroke-width="2.6"/></g>
<g stroke="#000" stroke-width="2"><line x1="602.3" y1="535.6" x2="611.1" y2="544.4"/><line x1="602.3" y1="544.4" x2="611.1" y2="535.6"/><line x1="606.7" y1="536.4" x2="606.7" y2="543.6" stroke-width="2.6"/></g>
<text transform="translate(486.0,547.7) scale(0.97,1)" font-size="21.3" text-anchor="start" fill="#111" >a</text>
<text transform="translate(486.0,572.6) scale(0.97,1)" font-size="21.3" text-anchor="start" fill="#111" letter-spacing="0.8">ab</text>
<text transform="translate(486.0,595.7) scale(0.97,1)" font-size="21.3" text-anchor="start" fill="#111" >b</text>
<text transform="translate(486.0,614.4) scale(0.97,1)" font-size="21.3" text-anchor="start" fill="#111" >b</text>
<text transform="translate(486.0,630.2) scale(0.97,1)" font-size="21.3" text-anchor="start" fill="#111" >b</text>
<text transform="translate(554.7,420.7) scale(0.97,1)" font-size="21.3" text-anchor="start" fill="#111" >a</text>
<text transform="translate(554.7,457.2) scale(0.97,1)" font-size="21.3" text-anchor="start" fill="#111" >b</text>
<text transform="translate(554.7,480.8) scale(0.97,1)" font-size="21.3" text-anchor="start" fill="#111" letter-spacing="0.8">bc</text>
<text transform="translate(554.7,497.5) scale(0.97,1)" font-size="21.3" text-anchor="start" fill="#111" >c</text>
<text transform="translate(554.7,521.8) scale(0.97,1)" font-size="21.3" text-anchor="start" fill="#111" >d</text>
<text transform="translate(624.6,500.4) scale(0.97,1)" font-size="21.3" text-anchor="start" fill="#111" >a</text>
<text transform="translate(624.6,524.8) scale(0.97,1)" font-size="21.3" text-anchor="start" fill="#111" >b</text>
<text transform="translate(624.6,549.7) scale(0.97,1)" font-size="21.3" text-anchor="start" fill="#111" >b</text>
<text transform="translate(624.6,566.4) scale(0.97,1)" font-size="21.3" text-anchor="start" fill="#111" >b</text>
<text transform="translate(624.6,586.0) scale(0.97,1)" font-size="21.3" text-anchor="start" fill="#111" >c</text>
<line x1="152.4" y1="699.0" x2="152.4" y2="987.5" stroke="#000" stroke-width="2.2"/>
<line x1="152.4" y1="700.0" x2="157.9" y2="700.0" stroke="#000" stroke-width="2"/>
<text transform="translate(133.0,708.3) scale(1.0,1)" font-size="22.8" text-anchor="end" fill="#111" >1.6</text>
<line x1="152.4" y1="735.8" x2="157.9" y2="735.8" stroke="#000" stroke-width="2"/>
<text transform="translate(133.0,744.1) scale(1.0,1)" font-size="22.8" text-anchor="end" fill="#111" >1.4</text>
<line x1="152.4" y1="771.6" x2="157.9" y2="771.6" stroke="#000" stroke-width="2"/>
<text transform="translate(133.0,779.9) scale(1.0,1)" font-size="22.8" text-anchor="end" fill="#111" >1.2</text>
<line x1="152.4" y1="807.4" x2="157.9" y2="807.4" stroke="#000" stroke-width="2"/>
<text transform="translate(133.0,815.7) scale(1.0,1)" font-size="22.8" text-anchor="end" fill="#111" >1.0</text>
<line x1="152.4" y1="843.2" x2="157.9" y2="843.2" stroke="#000" stroke-width="2"/>
<text transform="translate(133.0,851.5) scale(1.0,1)" font-size="22.8" text-anchor="end" fill="#111" >0.8</text>
<line x1="152.4" y1="879.1" x2="157.9" y2="879.1" stroke="#000" stroke-width="2"/>
<text transform="translate(133.0,887.4) scale(1.0,1)" font-size="22.8" text-anchor="end" fill="#111" >0.6</text>
<line x1="152.4" y1="914.9" x2="157.9" y2="914.9" stroke="#000" stroke-width="2"/>
<text transform="translate(133.0,923.2) scale(1.0,1)" font-size="22.8" text-anchor="end" fill="#111" >0.4</text>
<line x1="152.4" y1="950.7" x2="157.9" y2="950.7" stroke="#000" stroke-width="2"/>
<text transform="translate(133.0,959.0) scale(1.0,1)" font-size="22.8" text-anchor="end" fill="#111" >0.2</text>
<text transform="translate(133.0,994.8) scale(1.0,1)" font-size="22.8" text-anchor="end" fill="#111" >0</text>
<line x1="151.4" y1="986.5" x2="644.0" y2="986.5" stroke="#000" stroke-width="2.2"/>
<line x1="222.5" y1="986.5" x2="222.5" y2="981.0" stroke="#000" stroke-width="2"/>
<line x1="292.6" y1="986.5" x2="292.6" y2="981.0" stroke="#000" stroke-width="2"/>
<line x1="362.7" y1="986.5" x2="362.7" y2="981.0" stroke="#000" stroke-width="2"/>
<line x1="432.7" y1="986.5" x2="432.7" y2="981.0" stroke="#000" stroke-width="2"/>
<line x1="502.8" y1="986.5" x2="502.8" y2="981.0" stroke="#000" stroke-width="2"/>
<line x1="572.9" y1="986.5" x2="572.9" y2="981.0" stroke="#000" stroke-width="2"/>
<line x1="643.0" y1="986.5" x2="643.0" y2="981.0" stroke="#000" stroke-width="2"/>
<text transform="translate(178.0,725.2) scale(1.05,1)" font-size="21.5" text-anchor="start" fill="#111" >C</text>
<polyline points="188.2,930.3 257.6,809.4 327.3,866.0" fill="none" stroke="#000" stroke-width="1.9" stroke-linejoin="miter"/>
<polyline points="188.2,915.0 257.6,783.2 327.3,862.0" fill="none" stroke="#000" stroke-width="1.9" stroke-linejoin="miter"/>
<polyline points="188.2,891.0 257.6,760.2 327.3,829.9" fill="none" stroke="#000" stroke-width="1.9" stroke-linejoin="miter"/>
<polyline points="188.2,907.0 257.6,778.1 327.3,857.0" fill="none" stroke="#000" stroke-width="1.9" stroke-linejoin="miter"/>
<polyline points="188.2,893.5 257.6,725.0 327.3,819.8" fill="none" stroke="#000" stroke-width="1.9" stroke-linejoin="miter"/>
<line x1="188.2" y1="917.3" x2="188.2" y2="943.3" stroke="#000" stroke-width="2"/>
<line x1="181.7" y1="917.3" x2="194.7" y2="917.3" stroke="#000" stroke-width="2.2"/>
<line x1="181.7" y1="943.3" x2="194.7" y2="943.3" stroke="#000" stroke-width="2.2"/>
<line x1="257.6" y1="800.4" x2="257.6" y2="818.4" stroke="#000" stroke-width="2"/>
<line x1="251.1" y1="800.4" x2="264.1" y2="800.4" stroke="#000" stroke-width="2.2"/>
<line x1="251.1" y1="818.4" x2="264.1" y2="818.4" stroke="#000" stroke-width="2.2"/>
<line x1="327.3" y1="862.0" x2="327.3" y2="870.0" stroke="#000" stroke-width="2"/>
<line x1="320.8" y1="862.0" x2="333.8" y2="862.0" stroke="#000" stroke-width="2.2"/>
<line x1="320.8" y1="870.0" x2="333.8" y2="870.0" stroke="#000" stroke-width="2.2"/>
<line x1="188.2" y1="907.0" x2="188.2" y2="923.0" stroke="#000" stroke-width="2"/>
<line x1="181.7" y1="907.0" x2="194.7" y2="907.0" stroke="#000" stroke-width="2.2"/>
<line x1="181.7" y1="923.0" x2="194.7" y2="923.0" stroke="#000" stroke-width="2.2"/>
<line x1="257.6" y1="778.2" x2="257.6" y2="788.2" stroke="#000" stroke-width="2"/>
<line x1="251.1" y1="778.2" x2="264.1" y2="778.2" stroke="#000" stroke-width="2.2"/>
<line x1="251.1" y1="788.2" x2="264.1" y2="788.2" stroke="#000" stroke-width="2.2"/>
<line x1="327.3" y1="857.0" x2="327.3" y2="867.0" stroke="#000" stroke-width="2"/>
<line x1="320.8" y1="857.0" x2="333.8" y2="857.0" stroke="#000" stroke-width="2.2"/>
<line x1="320.8" y1="867.0" x2="333.8" y2="867.0" stroke="#000" stroke-width="2.2"/>
<line x1="188.2" y1="884.0" x2="188.2" y2="898.0" stroke="#000" stroke-width="2"/>
<line x1="181.7" y1="884.0" x2="194.7" y2="884.0" stroke="#000" stroke-width="2.2"/>
<line x1="181.7" y1="898.0" x2="194.7" y2="898.0" stroke="#000" stroke-width="2.2"/>
<line x1="257.6" y1="750.2" x2="257.6" y2="770.2" stroke="#000" stroke-width="2"/>
<line x1="251.1" y1="750.2" x2="264.1" y2="750.2" stroke="#000" stroke-width="2.2"/>
<line x1="251.1" y1="770.2" x2="264.1" y2="770.2" stroke="#000" stroke-width="2.2"/>
<line x1="327.3" y1="817.9" x2="327.3" y2="841.9" stroke="#000" stroke-width="2"/>
<line x1="320.8" y1="817.9" x2="333.8" y2="817.9" stroke="#000" stroke-width="2.2"/>
<line x1="320.8" y1="841.9" x2="333.8" y2="841.9" stroke="#000" stroke-width="2.2"/>
<line x1="188.2" y1="904.0" x2="188.2" y2="910.0" stroke="#000" stroke-width="2"/>
<line x1="181.7" y1="904.0" x2="194.7" y2="904.0" stroke="#000" stroke-width="2.2"/>
<line x1="181.7" y1="910.0" x2="194.7" y2="910.0" stroke="#000" stroke-width="2.2"/>
<line x1="257.6" y1="768.1" x2="257.6" y2="788.1" stroke="#000" stroke-width="2"/>
<line x1="251.1" y1="768.1" x2="264.1" y2="768.1" stroke="#000" stroke-width="2.2"/>
<line x1="251.1" y1="788.1" x2="264.1" y2="788.1" stroke="#000" stroke-width="2.2"/>
<line x1="327.3" y1="848.0" x2="327.3" y2="866.0" stroke="#000" stroke-width="2"/>
<line x1="320.8" y1="848.0" x2="333.8" y2="848.0" stroke="#000" stroke-width="2.2"/>
<line x1="320.8" y1="866.0" x2="333.8" y2="866.0" stroke="#000" stroke-width="2.2"/>
<line x1="188.2" y1="885.2" x2="188.2" y2="901.8" stroke="#000" stroke-width="2"/>
<line x1="181.7" y1="885.2" x2="194.7" y2="885.2" stroke="#000" stroke-width="2.2"/>
<line x1="181.7" y1="901.8" x2="194.7" y2="901.8" stroke="#000" stroke-width="2.2"/>
<line x1="257.6" y1="715.0" x2="257.6" y2="735.0" stroke="#000" stroke-width="2"/>
<line x1="251.1" y1="715.0" x2="264.1" y2="715.0" stroke="#000" stroke-width="2.2"/>
<line x1="251.1" y1="735.0" x2="264.1" y2="735.0" stroke="#000" stroke-width="2.2"/>
<line x1="327.3" y1="809.8" x2="327.3" y2="829.8" stroke="#000" stroke-width="2"/>
<line x1="320.8" y1="809.8" x2="333.8" y2="809.8" stroke="#000" stroke-width="2.2"/>
<line x1="320.8" y1="829.8" x2="333.8" y2="829.8" stroke="#000" stroke-width="2.2"/>
<polygon points="188.2,925.1 192.9,930.3 188.2,935.5 183.5,930.3" fill="#000"/>
<polygon points="257.6,804.2 262.3,809.4 257.6,814.6 252.9,809.4" fill="#000"/>
<polygon points="327.3,860.8 332.0,866.0 327.3,871.2 322.6,866.0" fill="#000"/>
<rect x="183.6" y="910.4" width="9.2" height="9.2" fill="#000"/>
<rect x="253.0" y="778.6" width="9.2" height="9.2" fill="#000"/>
<rect x="322.7" y="857.4" width="9.2" height="9.2" fill="#000"/>
<polygon points="188.2,885.4 193.8,895.2 182.6,895.2" fill="#000"/>
<polygon points="257.6,754.6 263.2,764.4 252.0,764.4" fill="#000"/>
<polygon points="327.3,824.3 332.9,834.1 321.7,834.1" fill="#000"/>
<circle cx="188.2" cy="893.5" r="3.9" fill="#fff" stroke="#000" stroke-width="2"/>
<circle cx="257.6" cy="725.0" r="3.9" fill="#fff" stroke="#000" stroke-width="2"/>
<circle cx="327.3" cy="819.8" r="3.9" fill="#fff" stroke="#000" stroke-width="2"/>
<g stroke="#000" stroke-width="2"><line x1="183.8" y1="902.6" x2="192.6" y2="911.4"/><line x1="183.8" y1="911.4" x2="192.6" y2="902.6"/><line x1="188.2" y1="903.4" x2="188.2" y2="910.6" stroke-width="2.6"/></g>
<g stroke="#000" stroke-width="2"><line x1="253.2" y1="773.7" x2="262.0" y2="782.5"/><line x1="253.2" y1="782.5" x2="262.0" y2="773.7"/><line x1="257.6" y1="774.5" x2="257.6" y2="781.7" stroke-width="2.6"/></g>
<g stroke="#000" stroke-width="2"><line x1="322.9" y1="852.6" x2="331.7" y2="861.4"/><line x1="322.9" y1="861.4" x2="331.7" y2="852.6"/><line x1="327.3" y1="853.4" x2="327.3" y2="860.6" stroke-width="2.6"/></g>
<text transform="translate(205.7,869.7) scale(0.97,1)" font-size="21.3" text-anchor="start" fill="#111" >a</text>
<text transform="translate(205.7,886.4) scale(0.97,1)" font-size="21.3" text-anchor="start" fill="#111" >a</text>
<text transform="translate(205.7,910.7) scale(0.97,1)" font-size="21.3" text-anchor="start" fill="#111" >b</text>
<text transform="translate(205.7,929.1) scale(0.97,1)" font-size="21.3" text-anchor="start" fill="#111" letter-spacing="0.8">bc</text>
<text transform="translate(205.7,946.4) scale(0.97,1)" font-size="21.3" text-anchor="start" fill="#111" >c</text>
<text transform="translate(274.0,723.6) scale(0.97,1)" font-size="21.3" text-anchor="start" fill="#111" >a</text>
<text transform="translate(274.0,756.9) scale(0.97,1)" font-size="21.3" text-anchor="start" fill="#111" >b</text>
<text transform="translate(274.0,784.4) scale(0.97,1)" font-size="21.3" text-anchor="start" fill="#111" letter-spacing="0.8">bc</text>
<text transform="translate(274.0,805.6) scale(0.97,1)" font-size="21.3" text-anchor="start" fill="#111" >c</text>
<text transform="translate(274.0,832.4) scale(0.97,1)" font-size="21.3" text-anchor="start" fill="#111" >d</text>
<text transform="translate(345.5,812.7) scale(0.97,1)" font-size="21.3" text-anchor="start" fill="#111" >a</text>
<text transform="translate(345.5,838.2) scale(0.97,1)" font-size="21.3" text-anchor="start" fill="#111" >b</text>
<text transform="translate(345.5,860.8) scale(0.97,1)" font-size="21.3" text-anchor="start" fill="#111" >c</text>
<text transform="translate(345.5,879.2) scale(0.97,1)" font-size="21.3" text-anchor="start" fill="#111" >c</text>
<text transform="translate(345.5,897.6) scale(0.97,1)" font-size="21.3" text-anchor="start" fill="#111" >c</text>
<polyline points="466.9,933.4 537.7,860.4 607.4,887.0" fill="none" stroke="#000" stroke-width="1.9" stroke-linejoin="miter"/>
<polyline points="466.9,917.0 537.7,822.4 607.4,874.7" fill="none" stroke="#000" stroke-width="1.9" stroke-linejoin="miter"/>
<polyline points="466.9,911.3 537.7,788.0 607.4,847.2" fill="none" stroke="#000" stroke-width="1.9" stroke-linejoin="miter"/>
<polyline points="466.9,913.0 537.7,807.8 607.4,868.0" fill="none" stroke="#000" stroke-width="1.9" stroke-linejoin="miter"/>
<polyline points="466.9,893.1 537.7,743.6 607.4,806.1" fill="none" stroke="#000" stroke-width="1.9" stroke-linejoin="miter"/>
<line x1="466.9" y1="930.4" x2="466.9" y2="936.4" stroke="#000" stroke-width="2"/>
<line x1="460.4" y1="930.4" x2="473.4" y2="930.4" stroke="#000" stroke-width="2.2"/>
<line x1="460.4" y1="936.4" x2="473.4" y2="936.4" stroke="#000" stroke-width="2.2"/>
<line x1="537.7" y1="843.6" x2="537.7" y2="877.2" stroke="#000" stroke-width="2"/>
<line x1="531.2" y1="843.6" x2="544.2" y2="843.6" stroke="#000" stroke-width="2.2"/>
<line x1="531.2" y1="877.2" x2="544.2" y2="877.2" stroke="#000" stroke-width="2.2"/>
<line x1="607.4" y1="859.0" x2="607.4" y2="915.0" stroke="#000" stroke-width="2"/>
<line x1="600.9" y1="859.0" x2="613.9" y2="859.0" stroke="#000" stroke-width="2.2"/>
<line x1="600.9" y1="915.0" x2="613.9" y2="915.0" stroke="#000" stroke-width="2.2"/>
<line x1="466.9" y1="882.8" x2="466.9" y2="951.2" stroke="#000" stroke-width="2"/>
<line x1="460.4" y1="882.8" x2="473.4" y2="882.8" stroke="#000" stroke-width="2.2"/>
<line x1="460.4" y1="951.2" x2="473.4" y2="951.2" stroke="#000" stroke-width="2.2"/>
<line x1="537.7" y1="807.1" x2="537.7" y2="837.7" stroke="#000" stroke-width="2"/>
<line x1="531.2" y1="807.1" x2="544.2" y2="807.1" stroke="#000" stroke-width="2.2"/>
<line x1="531.2" y1="837.7" x2="544.2" y2="837.7" stroke="#000" stroke-width="2.2"/>
<line x1="607.4" y1="871.7" x2="607.4" y2="877.7" stroke="#000" stroke-width="2"/>
<line x1="600.9" y1="871.7" x2="613.9" y2="871.7" stroke="#000" stroke-width="2.2"/>
<line x1="600.9" y1="877.7" x2="613.9" y2="877.7" stroke="#000" stroke-width="2.2"/>
<line x1="466.9" y1="878.3" x2="466.9" y2="944.3" stroke="#000" stroke-width="2"/>
<line x1="460.4" y1="878.3" x2="473.4" y2="878.3" stroke="#000" stroke-width="2.2"/>
<line x1="460.4" y1="944.3" x2="473.4" y2="944.3" stroke="#000" stroke-width="2.2"/>
<line x1="537.7" y1="769.7" x2="537.7" y2="806.3" stroke="#000" stroke-width="2"/>
<line x1="531.2" y1="769.7" x2="544.2" y2="769.7" stroke="#000" stroke-width="2.2"/>
<line x1="531.2" y1="806.3" x2="544.2" y2="806.3" stroke="#000" stroke-width="2.2"/>
<line x1="607.4" y1="825.2" x2="607.4" y2="869.2" stroke="#000" stroke-width="2"/>
<line x1="600.9" y1="825.2" x2="613.9" y2="825.2" stroke="#000" stroke-width="2.2"/>
<line x1="600.9" y1="869.2" x2="613.9" y2="869.2" stroke="#000" stroke-width="2.2"/>
<line x1="466.9" y1="899.0" x2="466.9" y2="927.0" stroke="#000" stroke-width="2"/>
<line x1="460.4" y1="899.0" x2="473.4" y2="899.0" stroke="#000" stroke-width="2.2"/>
<line x1="460.4" y1="927.0" x2="473.4" y2="927.0" stroke="#000" stroke-width="2.2"/>
<line x1="537.7" y1="797.8" x2="537.7" y2="817.8" stroke="#000" stroke-width="2"/>
<line x1="531.2" y1="797.8" x2="544.2" y2="797.8" stroke="#000" stroke-width="2.2"/>
<line x1="531.2" y1="817.8" x2="544.2" y2="817.8" stroke="#000" stroke-width="2.2"/>
<line x1="607.4" y1="839.0" x2="607.4" y2="897.0" stroke="#000" stroke-width="2"/>
<line x1="600.9" y1="839.0" x2="613.9" y2="839.0" stroke="#000" stroke-width="2.2"/>
<line x1="600.9" y1="897.0" x2="613.9" y2="897.0" stroke="#000" stroke-width="2.2"/>
<line x1="466.9" y1="870.7" x2="466.9" y2="915.5" stroke="#000" stroke-width="2"/>
<line x1="460.4" y1="870.7" x2="473.4" y2="870.7" stroke="#000" stroke-width="2.2"/>
<line x1="460.4" y1="915.5" x2="473.4" y2="915.5" stroke="#000" stroke-width="2.2"/>
<line x1="537.7" y1="721.4" x2="537.7" y2="765.8" stroke="#000" stroke-width="2"/>
<line x1="531.2" y1="721.4" x2="544.2" y2="721.4" stroke="#000" stroke-width="2.2"/>
<line x1="531.2" y1="765.8" x2="544.2" y2="765.8" stroke="#000" stroke-width="2.2"/>
<line x1="607.4" y1="787.6" x2="607.4" y2="824.6" stroke="#000" stroke-width="2"/>
<line x1="600.9" y1="787.6" x2="613.9" y2="787.6" stroke="#000" stroke-width="2.2"/>
<line x1="600.9" y1="824.6" x2="613.9" y2="824.6" stroke="#000" stroke-width="2.2"/>
<polygon points="466.9,928.2 471.6,933.4 466.9,938.6 462.2,933.4" fill="#000"/>
<polygon points="537.7,855.2 542.4,860.4 537.7,865.6 533.0,860.4" fill="#000"/>
<polygon points="607.4,881.8 612.1,887.0 607.4,892.2 602.7,887.0" fill="#000"/>
<rect x="462.3" y="912.4" width="9.2" height="9.2" fill="#000"/>
<rect x="533.1" y="817.8" width="9.2" height="9.2" fill="#000"/>
<rect x="602.8" y="870.1" width="9.2" height="9.2" fill="#000"/>
<polygon points="466.9,905.7 472.5,915.5 461.3,915.5" fill="#000"/>
<polygon points="537.7,782.4 543.3,792.2 532.1,792.2" fill="#000"/>
<polygon points="607.4,841.6 613.0,851.4 601.8,851.4" fill="#000"/>
<circle cx="466.9" cy="893.1" r="3.9" fill="#fff" stroke="#000" stroke-width="2"/>
<circle cx="537.7" cy="743.6" r="3.9" fill="#fff" stroke="#000" stroke-width="2"/>
<circle cx="607.4" cy="806.1" r="3.9" fill="#fff" stroke="#000" stroke-width="2"/>
<g stroke="#000" stroke-width="2"><line x1="462.5" y1="908.6" x2="471.3" y2="917.4"/><line x1="462.5" y1="917.4" x2="471.3" y2="908.6"/><line x1="466.9" y1="909.4" x2="466.9" y2="916.6" stroke-width="2.6"/></g>
<g stroke="#000" stroke-width="2"><line x1="533.3" y1="803.4" x2="542.1" y2="812.2"/><line x1="533.3" y1="812.2" x2="542.1" y2="803.4"/><line x1="537.7" y1="804.2" x2="537.7" y2="811.4" stroke-width="2.6"/></g>
<g stroke="#000" stroke-width="2"><line x1="603.0" y1="863.6" x2="611.8" y2="872.4"/><line x1="603.0" y1="872.4" x2="611.8" y2="863.6"/><line x1="607.4" y1="864.4" x2="607.4" y2="871.6" stroke-width="2.6"/></g>
<text transform="translate(485.8,868.1) scale(0.97,1)" font-size="21.3" text-anchor="start" fill="#111" >a</text>
<text transform="translate(485.8,892.4) scale(0.97,1)" font-size="21.3" text-anchor="start" fill="#111" letter-spacing="0.8">ab</text>
<text transform="translate(485.8,916.8) scale(0.97,1)" font-size="21.3" text-anchor="start" fill="#111" >b</text>
<text transform="translate(485.8,941.7) scale(0.97,1)" font-size="21.3" text-anchor="start" fill="#111" letter-spacing="0.8">bc</text>
<text transform="translate(485.8,964.1) scale(0.97,1)" font-size="21.3" text-anchor="start" fill="#111" >c</text>
<text transform="translate(553.8,741.8) scale(0.97,1)" font-size="21.3" text-anchor="start" fill="#111" >a</text>
<text transform="translate(553.8,792.3) scale(0.97,1)" font-size="21.3" text-anchor="start" fill="#111" >b</text>
<text transform="translate(553.8,814.2) scale(0.97,1)" font-size="21.3" text-anchor="start" fill="#111" >b</text>
<text transform="translate(553.8,830.3) scale(0.97,1)" font-size="21.3" text-anchor="start" fill="#111" >b</text>
<text transform="translate(553.8,867.6) scale(0.97,1)" font-size="21.3" text-anchor="start" fill="#111" >c</text>
<text transform="translate(625.7,814.9) scale(0.97,1)" font-size="21.3" text-anchor="start" fill="#111" >a</text>
<text transform="translate(625.7,854.7) scale(0.97,1)" font-size="21.3" text-anchor="start" fill="#111" >b</text>
<text transform="translate(625.7,875.3) scale(0.97,1)" font-size="21.3" text-anchor="start" fill="#111" >c</text>
<text transform="translate(625.7,893.1) scale(0.97,1)" font-size="21.3" text-anchor="start" fill="#111" >c</text>
<text transform="translate(625.7,914.4) scale(0.97,1)" font-size="21.3" text-anchor="start" fill="#111" >c</text>
<text transform="translate(187.3,1027.0) scale(1.06,1)" font-size="21.5" text-anchor="middle" fill="#111" >0</text>
<text transform="translate(257.1,1027.0) scale(1.06,1)" font-size="21.5" text-anchor="middle" fill="#111" >10</text>
<text transform="translate(326.6,1027.0) scale(1.06,1)" font-size="21.5" text-anchor="middle" fill="#111" >20</text>
<text transform="translate(467.0,1027.0) scale(1.06,1)" font-size="21.5" text-anchor="middle" fill="#111" >0</text>
<text transform="translate(537.5,1027.0) scale(1.06,1)" font-size="21.5" text-anchor="middle" fill="#111" >10</text>
<text transform="translate(607.3,1027.0) scale(1.06,1)" font-size="21.5" text-anchor="middle" fill="#111" >20</text>
<text x="233.2" y="1062" font-size="21" fill="#333" font-family="'Noto Serif CJK SC', serif">抽</text>
<text x="256.5" y="1062" font-size="21" fill="#333" font-family="'Noto Serif CJK SC', serif">穗</text>
<text x="279.8" y="1062" font-size="21" fill="#333" font-family="'Noto Serif CJK SC', serif">后</text>
<text x="303.1" y="1062" font-size="21" fill="#333" font-family="'Noto Serif CJK SC', serif">天</text>
<text x="326.4" y="1062" font-size="21" fill="#333" font-family="'Noto Serif CJK SC', serif">数</text>
<text transform="translate(354.2,1061.8) scale(1.0,1)" font-size="21" text-anchor="start" fill="#222" letter-spacing="1.2">Days</text>
<text transform="translate(405.8,1061.8) scale(1.0,1)" font-size="21" text-anchor="start" fill="#222" letter-spacing="1.2">after</text>
<text transform="translate(455.2,1061.8) scale(1.0,1)" font-size="21" text-anchor="start" fill="#222" letter-spacing="1.2">heading</text>
<text transform="translate(535.6,1061.8) scale(1.0,1)" font-size="21" text-anchor="start" fill="#222" letter-spacing="1.2">(d)</text>
<text transform="translate(50.6,195.3) rotate(-90) scale(1,0.95)" font-size="21.5" text-anchor="middle" fill="#111">SOD<tspan font-family="'Noto Serif CJK SC', serif" font-size="20.5" fill="#555">活性</tspan></text>
<text transform="translate(73.8,196.3) rotate(-90) scale(1.036,0.95)" font-size="21.5" text-anchor="middle" fill="#111">SOD activity (U • g<tspan dy="-9" font-size="11.5">-1</tspan><tspan dy="9"> </tspan>FW • min<tspan dy="-9" font-size="11.5">-1</tspan><tspan dy="9">)</tspan></text>
<text transform="translate(51.3,513.0) rotate(-90) scale(1,0.95)" font-size="21.5" text-anchor="middle" fill="#111">CAT<tspan font-family="'Noto Serif CJK SC', serif" font-size="20.5" fill="#555">活性</tspan></text>
<text transform="translate(73.8,512.9) rotate(-90) scale(1.0225,0.95)" font-size="21.5" text-anchor="middle" fill="#111">CAT activity (mg • g<tspan dy="-9" font-size="11.5">-1</tspan><tspan dy="9"> </tspan>FW • min<tspan dy="-9" font-size="11.5">-1</tspan><tspan dy="9">)</tspan></text>
<text transform="translate(55.7,846.5) rotate(-90) scale(1,0.95)" font-size="21.5" text-anchor="middle" fill="#111">POD<tspan font-family="'Noto Serif CJK SC', serif" font-size="20.5" fill="#555">活性</tspan></text>
<text transform="translate(78.8,847.2) rotate(-90) scale(1.024,0.95)" font-size="21.5" text-anchor="middle" fill="#111">POD activity (U • g<tspan dy="-9" font-size="11.5">-1</tspan><tspan dy="9"> </tspan>FW • min<tspan dy="-9" font-size="11.5">-1</tspan><tspan dy="9">)</tspan></text>
</svg>
</body></html>
